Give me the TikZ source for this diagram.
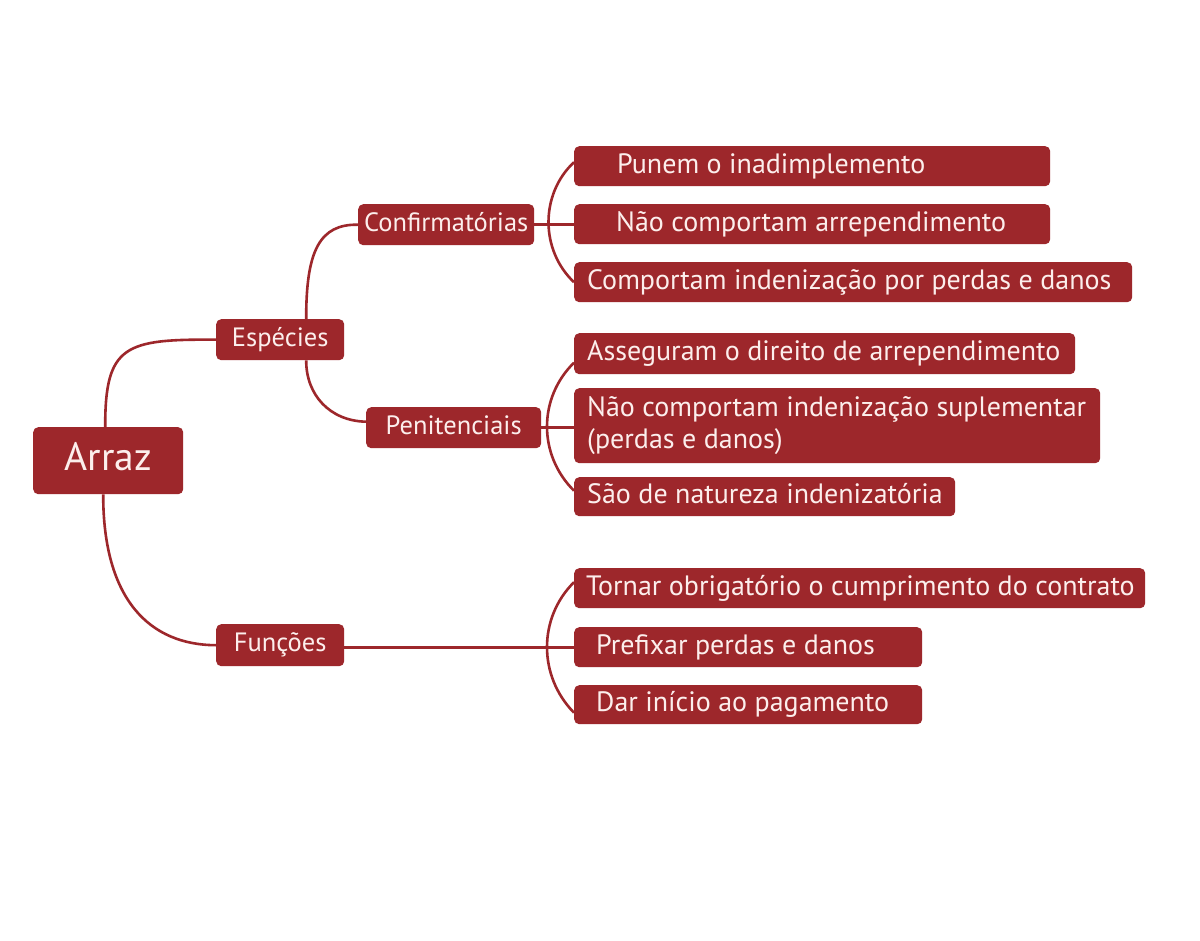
\documentclass[tikz,border=0pt]{standalone}
\usepackage{fontspec}
\setmainfont{PT Sans}
\definecolor{boxred}{RGB}{157,39,43}
\definecolor{boxtext}{RGB}{252,238,236}
\newcommand\cstrut{\rule[-0.2em]{0pt}{0.9em}}
\newcommand\bt[2]{\makebox[#1][l]{\cstrut#2}}
\begin{document}
\begin{tikzpicture}[x=1pt,y=-1pt,
  box/.style={fill=boxred, rounded corners=5pt, text=boxtext, inner sep=0pt, anchor=north west},
  leaf/.style={box, font=\fontsize{28}{32}\selectfont},
  mid/.style={box, font=\fontsize{26.5}{30}\selectfont},
  link/.style={draw=boxred, line width=2.6pt}]
\useasboundingbox[fill=white] (0,0) rectangle (1200,941);

% root and middle levels
\node[box, minimum width=150pt, minimum height=67pt, font=\fontsize{39.5}{44}\selectfont] (ar) at (33,427) {\cstrut Arraz};
\node[mid, minimum width=128pt, minimum height=41pt] (es) at (216,319) {\cstrut Espécies};
\node[mid, minimum width=128pt, minimum height=42pt] (fu) at (216,624) {\cstrut Funções};
\node[mid, minimum width=176pt, minimum height=41pt] (cf) at (358,204) {\cstrut Confirmatórias};
\node[mid, minimum width=175pt, minimum height=41pt] (pe) at (366,407) {\cstrut Penitenciais};

% leaves
\node[leaf, minimum height=40pt, inner xsep=43pt] (c1) at (574,146) {\bt{390pt}{Punem o inadimplemento}};
\node[leaf, minimum height=40pt, inner xsep=42pt] (c2) at (574,204) {\bt{392pt}{Não comportam arrependimento}};
\node[leaf, minimum height=40pt, inner xsep=13pt] (c3) at (574,262) {\bt{532pt}{Comportam indenização por perdas e danos}};

\node[leaf, minimum height=41pt, inner xsep=13pt] (p1) at (574,333) {\bt{475pt}{Asseguram o direito de arrependimento}};
\node[leaf, minimum height=75pt, inner xsep=13pt] (p2) at (574,388) {\makebox[500pt][l]{\begin{tabular}{@{}l@{}}Não comportam indenização suplementar\\(perdas e danos)\end{tabular}}};
\node[leaf, minimum height=39pt, inner xsep=13pt] (p3) at (574,477) {\bt{355pt}{São de natureza indenizatória}};

\node[leaf, minimum height=40pt, inner xsep=12pt] (f1) at (574,568) {\bt{547pt}{Tornar obrigatório o cumprimento do contrato}};
\node[leaf, minimum height=40pt, inner xsep=22pt] (f2) at (574,627) {\bt{304pt}{Prefixar perdas e danos}};
\node[leaf, minimum height=39pt, inner xsep=22pt] (f3) at (574,685) {\bt{304pt}{Dar início ao pagamento}};

% main connectors
\draw[link] ([xshift=-3pt]ar.north) .. controls (105,345) and (125,339) .. (es.west);
\draw[link] ([xshift=-5pt]ar.south) .. controls (103,600) and (150,645) .. (fu.west);
\draw[link] ([xshift=26pt]es.north) .. controls (306,250) and (320,224) .. (cf.west);
\draw[link] ([xshift=26pt]es.south) .. controls (306,395) and (330,421) .. ([yshift=6pt]pe.west);

% confirmatorias group
\draw[link] (cf.east) -- (cf.east -| c2.west);
\draw[link] ([yshift=4pt]c1.west) .. controls (540,194) and (540,250) .. (c3.west);

% penitenciais group
\draw[link] (pe.east) -- (pe.east -| p2.west);
\draw[link] ([yshift=-9pt]p1.west) .. controls (538,398) and (538,455) .. ([yshift=6pt]p3.west);

% funcoes group
\draw[link] (fu.east |- f2.west) -- (f2.west);
\draw[link] ([yshift=6pt]f1.west) .. controls (538,618) and (538,676) .. ([yshift=-8pt]f3.west);
\end{tikzpicture}
\end{document}
